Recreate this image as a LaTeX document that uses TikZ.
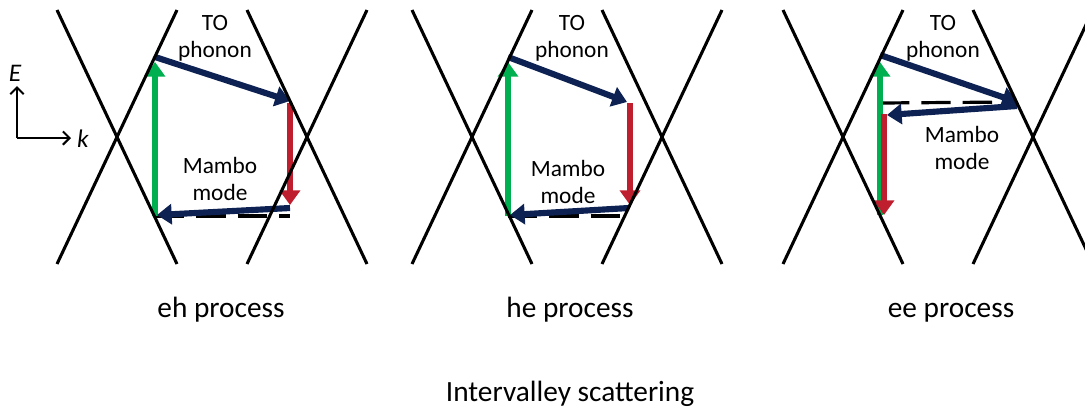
\documentclass[tikz,border=0pt]{standalone}
\usepackage{fontspec}
\setmainfont{Carlito}
\usetikzlibrary{arrows.meta}
\definecolor{tonavy}{HTML}{0D2252}
\definecolor{upgreen}{HTML}{00B050}
\definecolor{downred}{HTML}{BE1E2D}

\begin{document}
\begin{tikzpicture}[x=0.75pt, y=-0.75pt,
  band/.style={line width=2.3pt},
  level/.style={line width=2.4pt, dash pattern=on 22pt off 9pt},
  hop/.style={line width=4.6pt, -{Triangle[length=11pt,width=15pt]}},
  small/.style={align=center, font=\fontsize{17.5pt}{20.5pt}\selectfont},
  big/.style={anchor=base, font=\fontsize{22pt}{26pt}\selectfont}]
\useasboundingbox (0,0) rectangle (1085,412);

% E-k axes
\coordinate (org) at (17,138);
\coordinate (eEnd) at (17,86);
\coordinate (kEnd) at (71,138);
\draw[line width=1.5pt, -{Straight Barb[length=5pt,width=10pt]}] (org) -- (eEnd);
\draw[line width=1.5pt, -{Straight Barb[length=5pt,width=10pt]}] (org) -- (kEnd);
\node (E) at (15,73) {\fontsize{19pt}{22pt}\selectfont\itshape E};
\node (k) at (83,139) {\fontsize{19pt}{22pt}\selectfont\itshape k};

% eh process
\coordinate (ehLow) at (155,216);
\coordinate (ehUp) at (155,62);
\coordinate (ehTOs) at (155,57);
\coordinate (ehTOe) at (290,101);
\coordinate (ehRs) at (290,103);
\coordinate (ehRe) at (290,205);
\coordinate (ehMs) at (290,208);
\coordinate (ehMe) at (157,215);
\coordinate (ehDash) at (290,216);
\draw[level] (ehLow) -- (ehDash);
\draw[hop, upgreen] (ehLow) -- (ehUp);
\draw[hop, tonavy] (ehTOs) -- (ehTOe);
\draw[hop, downred] (ehRs) -- (ehRe);
\draw[hop, tonavy] (ehMs) -- (ehMe);

% he process
\coordinate (heLow) at (508,216);
\coordinate (heUp) at (508,62);
\coordinate (heTOs) at (508,57);
\coordinate (heTOe) at (627,102);
\coordinate (heRs) at (630,103);
\coordinate (heRe) at (630,205);
\coordinate (heMs) at (629,208);
\coordinate (heMe) at (510,215);
\coordinate (heDash) at (623,216);
\draw[level] (heLow) -- (heDash);
\draw[hop, upgreen] (heLow) -- (heUp);
\draw[hop, tonavy] (heTOs) -- (heTOe);
\draw[hop, downred] (heRs) -- (heRe);
\draw[hop, tonavy] (heMs) -- (heMe);

% ee process
\coordinate (eeLow) at (880,215);
\coordinate (eeUp) at (880,62);
\coordinate (eeTOs) at (880,55);
\coordinate (eeTOe) at (1017,102);
\coordinate (eeDash) at (880,103);
\coordinate (eeMs) at (1017,106);
\coordinate (eeMe) at (887,115);
\coordinate (eeRs) at (884,114);
\coordinate (eeRe) at (884,215);
\draw[level] (eeDash) -- (eeTOe);
\draw[hop, upgreen] (eeLow) -- (eeUp);
\draw[hop, tonavy] (eeTOs) -- (eeTOe);
\draw[hop, tonavy] (eeMs) -- (eeMe);
\draw[hop, downred] (eeRs) -- (eeRe);

% valleys
\draw[band] (57,10) -- (177,264);
\draw[band] (177,10) -- (57,264);
\draw[band] (247,10) -- (367,264);
\draw[band] (367,10) -- (247,264);
\draw[band] (412,10) -- (532,264);
\draw[band] (532,10) -- (412,264);
\draw[band] (602,10) -- (722,264);
\draw[band] (722,10) -- (602,264);
\draw[band] (783,10) -- (903,264);
\draw[band] (903,10) -- (783,264);
\draw[band] (973,10) -- (1093,264);
\draw[band] (1093,10) -- (973,264);

% labels
\node[small] (ehTO) at (215,38) {TO\\phonon};
\node[small] (ehMb) at (220,179) {Mambo\\mode};
\node[small] (heTO) at (572,38) {TO\\phonon};
\node[small] (heMb) at (568,182) {Mambo\\mode};
\node[small] (eeTO) at (943,38) {TO\\phonon};
\node[small] (eeMb) at (962,148) {Mambo\\mode};

\node[big] (ehName) at (221,317) {eh process};
\node[big] (heName) at (570,317) {he process};
\node[big] (eeName) at (951,317) {ee process};
\node[big] (title) at (570,401) {Intervalley scattering};
\end{tikzpicture}
\end{document}
